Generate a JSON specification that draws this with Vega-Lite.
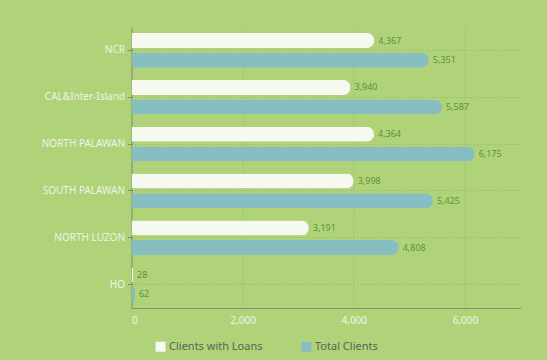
{
  "$schema": "https://vega.github.io/schema/vega-lite/v6.json",
  "width": 389,
  "height": 281,
  "autosize": {"type": "none"},
  "padding": {"left": 131.5, "top": 27, "right": 26.5, "bottom": 52},
  "background": "#b0d37a",
  "config": {
    "font": "Noto Sans",
    "view": {"stroke": null},
    "axis": {"labelFont": "Noto Sans"},
    "legend": {"labelFont": "Noto Sans"}
  },
  "data": {
    "values": [
      {"region": "NCR", "series": "Clients with Loans", "value": 4367},
      {"region": "NCR", "series": "Total Clients", "value": 5351},
      {"region": "CAL&Inter-Island", "series": "Clients with Loans", "value": 3940},
      {"region": "CAL&Inter-Island", "series": "Total Clients", "value": 5587},
      {"region": "NORTH PALAWAN", "series": "Clients with Loans", "value": 4364},
      {"region": "NORTH PALAWAN", "series": "Total Clients", "value": 6175},
      {"region": "SOUTH PALAWAN", "series": "Clients with Loans", "value": 3998},
      {"region": "SOUTH PALAWAN", "series": "Total Clients", "value": 5425},
      {"region": "NORTH LUZON", "series": "Clients with Loans", "value": 3191},
      {"region": "NORTH LUZON", "series": "Total Clients", "value": 4808},
      {"region": "HO", "series": "Clients with Loans", "value": 28},
      {"region": "HO", "series": "Total Clients", "value": 62}
    ]
  },
  "encoding": {
    "y": {
      "field": "region",
      "type": "nominal",
      "sort": null,
      "title": null,
      "scale": {"paddingInner": 0, "paddingOuter": 0},
      "axis": {
        "grid": true,
        "bandPosition": 0.5,
        "gridColor": "#8fb862",
        "gridDash": [1, 2],
        "gridWidth": 1,
        "domainColor": "#7f8f70",
        "tickColor": "#7f8f70",
        "tickSize": 4,
        "labelColor": "#eef4e4",
        "labelFontSize": 10,
        "labelPadding": 3
      }
    },
    "yOffset": {
      "field": "series",
      "type": "nominal",
      "sort": ["Clients with Loans", "Total Clients"],
      "scale": {"paddingInner": 0.24, "paddingOuter": 0.31}
    },
    "x": {
      "field": "value",
      "type": "quantitative",
      "title": null,
      "scale": {"domain": [0, 7000], "nice": false},
      "axis": {
        "values": [0, 2000, 4000, 6000],
        "format": ",.0f",
        "grid": true,
        "gridColor": "#8fb862",
        "gridDash": [1, 2],
        "domainColor": "#7f8f70",
        "ticks": false,
        "labelColor": "#eef4e4",
        "labelFontSize": 10,
        "labelPadding": 7
      }
    }
  },
  "layer": [
    {
      "mark": {"type": "bar", "cornerRadiusEnd": 7.5},
      "encoding": {
        "color": {
          "field": "series",
          "type": "nominal",
          "scale": {"domain": ["Clients with Loans", "Total Clients"], "range": ["#f6f9ef", "#86bec2"]},
          "legend": {
            "title": null,
            "orient": "none",
            "direction": "horizontal",
            "legendX": 23.5,
            "legendY": 314,
            "symbolType": "square",
            "symbolSize": 100,
            "symbolStrokeWidth": 0,
            "symbolOpacity": 1,
            "labelFontSize": 11,
            "labelColor": "#5b6452",
            "labelOffset": 3,
            "columnPadding": 38
          }
        }
      }
    },
    {
      "mark": {"type": "text", "align": "left", "dx": 4, "fontSize": 9, "color": "#5e9138"},
      "encoding": {
        "text": {"field": "value", "type": "quantitative", "format": ",.0f"}
      }
    }
  ]
}
